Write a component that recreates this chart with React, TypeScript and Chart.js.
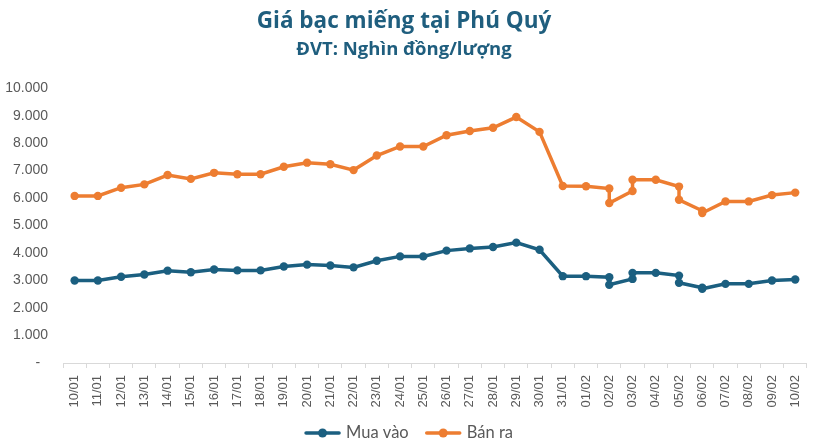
import React, { useEffect, useRef } from "react";
import { Chart, registerables } from "chart.js";

Chart.register(...registerables);

const categories = [
  "10/01", "11/01", "12/01", "13/01", "14/01", "15/01", "16/01", "17/01", "18/01", "19/01",
  "20/01", "21/01", "22/01", "23/01", "24/01", "25/01", "26/01", "27/01", "28/01", "29/01",
  "30/01", "31/01", "01/02", "02/02", "03/02", "04/02", "05/02", "06/02", "07/02", "08/02",
  "09/02", "10/02",
];

const pointDates = [
  "10/01", "11/01", "12/01", "13/01", "14/01", "15/01", "16/01", "17/01", "18/01", "19/01",
  "20/01", "21/01", "22/01", "23/01", "24/01", "25/01", "26/01", "27/01", "28/01", "29/01",
  "30/01", "31/01", "01/02", "02/02", "02/02", "03/02", "03/02", "04/02", "05/02", "05/02",
  "06/02", "06/02", "07/02", "08/02", "09/02", "10/02",
];

const buyValues = [
  3000, 3000, 3140, 3220, 3360, 3300, 3400, 3370, 3370, 3510,
  3580, 3550, 3480, 3720, 3880, 3880, 4090, 4170, 4220, 4380,
  4120, 3160, 3160, 3120, 2850, 3060, 3280, 3280, 3180, 2920,
  2740, 2700, 2880, 2880, 3000, 3040,
];

const sellValues = [
  6080, 6080, 6380, 6500, 6840, 6700, 6920, 6870, 6870, 7140,
  7290, 7230, 7020, 7550, 7880, 7880, 8290, 8440, 8560, 8950,
  8410, 6440, 6430, 6350, 5820, 6260, 6670, 6670, 6420, 5940,
  5540, 5460, 5880, 5880, 6110, 6200,
];

const seriesNames = ["Mua vào", "Bán ra"];
const seriesColors = ["#1B5F80", "#ED7D31"];
const titleText = "Giá bạc miếng tại Phú Quý";
const subtitleText = "ĐVT: Nghìn đồng/lượng";

function formatTick(v: number): string {
  if (v === 0) return "-  ";
  return String(v).replace(/\B(?=(\d{3})+(?!\d))/g, ".");
}

// Bottom legend: line-with-marker symbol followed by the series name
const bottomLegend = {
  id: "bottomLegend",
  afterDraw(chart: any) {
    const ctx = chart.ctx as CanvasRenderingContext2D;
    const ds = chart.data.datasets;
    const font = "16.5px Lato";
    const iconW = 35;
    const gapText = 6;
    const gapItem = 17;
    ctx.save();
    ctx.font = font;
    const widths = ds.map((d: any) => ctx.measureText(d.label).width);
    let total = 0;
    widths.forEach((w: number, i: number) => {
      total += iconW + gapText + w + (i < widths.length - 1 ? gapItem : 0);
    });
    let x = chart.width / 2 - total / 2;
    const y = chart.height - 13;
    ds.forEach((d: any, i: number) => {
      const color = d.borderColor;
      ctx.strokeStyle = color;
      ctx.lineWidth = 3.5;
      ctx.lineCap = "round";
      ctx.beginPath();
      ctx.moveTo(x + 1, y);
      ctx.lineTo(x + iconW - 1, y);
      ctx.stroke();
      ctx.fillStyle = color;
      ctx.beginPath();
      ctx.arc(x + iconW / 2, y, 4.5, 0, Math.PI * 2);
      ctx.fill();
      ctx.fillStyle = "#595959";
      ctx.textBaseline = "middle";
      ctx.textAlign = "left";
      ctx.fillText(d.label, x + iconW + gapText, y);
      x += iconW + gapText + widths[i] + gapItem;
    });
    ctx.restore();
  },
};

export default function App() {
  const ref = useRef<HTMLCanvasElement | null>(null);

  useEffect(() => {
    if (!ref.current) return;
    const mk = (vals: number[]) => vals.map((y, i) => ({ x: pointDates[i], y }));
    const chart = new Chart(ref.current, {
      type: "line",
      data: {
        labels: categories,
        datasets: [
          {
            label: seriesNames[0],
            data: mk(buyValues),
            borderColor: seriesColors[0],
            backgroundColor: seriesColors[0],
            borderWidth: 3.5,
            pointRadius: 4.2,
            pointHoverRadius: 4.2,
            pointBorderWidth: 0,
            tension: 0,
          },
          {
            label: seriesNames[1],
            data: mk(sellValues),
            borderColor: seriesColors[1],
            backgroundColor: seriesColors[1],
            borderWidth: 3.5,
            pointRadius: 4.2,
            pointHoverRadius: 4.2,
            pointBorderWidth: 0,
            tension: 0,
          },
        ],
      },
      plugins: [bottomLegend],
      options: {
        animation: false,
        responsive: true,
        maintainAspectRatio: false,
        layout: { padding: { left: 0, right: 10, top: 6, bottom: 39 } },
        plugins: {
          title: {
            display: true,
            text: titleText,
            color: "#1F5E7E",
            font: { family: "Open Sans", size: 22.5, weight: "bold" },
            padding: { top: 2, bottom: 0 },
          },
          subtitle: {
            display: true,
            text: subtitleText,
            color: "#1F5E7E",
            font: { family: "Open Sans", size: 18.5, weight: "bold" },
            padding: { top: 4, bottom: 27 },
          },
          legend: { display: false },
          tooltip: { enabled: false },
        },
        scales: {
          x: {
            type: "category",
            offset: true,
            grid: {
              offset: true,
              drawOnChartArea: false,
              drawTicks: true,
              tickLength: 5,
              color: "#D9D9D9",
            },
            border: { display: true, color: "#D9D9D9", width: 1 },
            afterFit: (s: any) => {
              s.height = 44;
            },
            ticks: {
              autoSkip: false,
              minRotation: 90,
              maxRotation: 90,
              padding: 7,
              color: "#595959",
              font: { family: "Liberation Sans", size: 13 },
            },
          },
          y: {
            min: 0,
            max: 10000,
            grid: { display: false },
            border: { display: false },
            afterFit: (s: any) => {
              s.width = 63;
            },
            ticks: {
              stepSize: 1000,
              padding: 7,
              color: "#595959",
              font: { family: "Liberation Sans", size: 14 },
              callback: (v: any) => formatTick(Number(v)),
            },
          },
        },
      },
    });
    return () => chart.destroy();
  }, []);

  return (
    <div style={{ position: "absolute", left: 0, top: 0, width: 818, height: 446, background: "#fff" }}>
      <canvas ref={ref} />
    </div>
  );
}
